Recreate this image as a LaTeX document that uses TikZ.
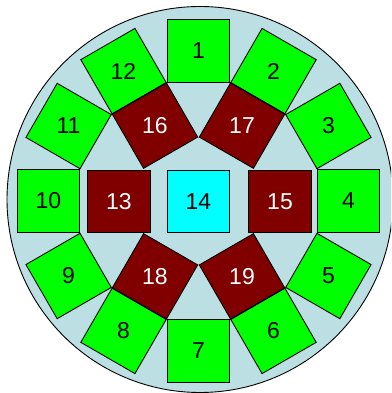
\documentclass[tikz,border=0pt]{standalone}
\usepackage{fontspec}
\setmainfont{Liberation Sans}
\definecolor{bgblue}{RGB}{188,223,228}
\definecolor{sqgreen}{RGB}{0,255,0}
\definecolor{sqred}{RGB}{128,0,0}
\definecolor{sqcyan}{RGB}{0,255,255}
\tikzset{
  cell/.style={draw=black, line width=0.9pt, minimum size=62.5pt, inner sep=0pt, outer sep=0pt},
  outercell/.style={cell, fill=sqgreen},
  innercell/.style={cell, fill=sqred},
  centercell/.style={cell, fill=sqcyan},
  lab/.style={inner sep=0pt, font=\fontsize{23}{27}\selectfont},
  darklab/.style={lab, text=black},
  lightlab/.style={lab, text=white}
}
\begin{document}
\begin{tikzpicture}[x=1pt,y=1pt]
\useasboundingbox (0,0) rectangle (391,393);
\clip (0,0) rectangle (391,393);
\node[circle, draw=black, line width=0.9pt, fill=bgblue, minimum size=386pt, inner sep=0pt] (disc) at (200,193.5) {};
\begin{scope}[shift={(198.5,192)}]
  % outer ring
  \foreach \k in {1,...,12} {
    \pgfmathsetmacro{\ang}{90-30*(\k-1)}
    \node[outercell, rotate=\ang] (o\k) at (\ang:150) {};
    \node[darklab] (t\k) at (o\k) {\k};
  }
  % inner ring
  \node[innercell, rotate=120] (i16) at (120:87) {};
  \node[lightlab] (t16) at (i16) {16};
  \node[innercell, rotate=60] (i17) at (60:87) {};
  \node[lightlab] (t17) at (i17) {17};
  \node[innercell, rotate=-60] (i19) at (-60:87) {};
  \node[lightlab] (t19) at (i19) {19};
  \node[innercell, rotate=-120] (i18) at (-120:87) {};
  \node[lightlab] (t18) at (i18) {18};
  \node[innercell] (i13) at (-79.5,-0.5) {};
  \node[lightlab] (t13) at (i13) {13};
  \node[innercell] (i15) at (81.5,-0.5) {};
  \node[lightlab] (t15) at (i15) {15};
  % center
  \node[centercell] (c14) at (0,-0.5) {};
  \node[darklab] (t14) at (c14) {14};
\end{scope}
\end{tikzpicture}
\end{document}
